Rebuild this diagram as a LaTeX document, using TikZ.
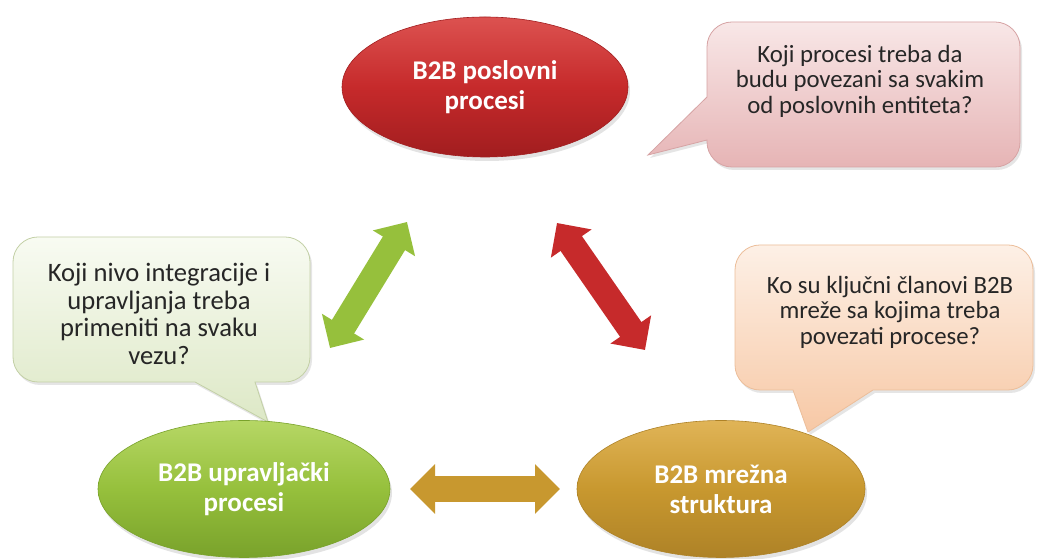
\documentclass[tikz,border=0pt]{standalone}
\usepackage{fontspec}
\setmainfont{Carlito}
\usetikzlibrary{shapes.geometric,arrows.meta,shadows}
\definecolor{redA}{HTML}{DC5250}
\definecolor{redB}{HTML}{C62A2B}
\definecolor{redC}{HTML}{A11D1F}
\definecolor{grnA}{HTML}{B6D765}
\definecolor{grnB}{HTML}{96C03C}
\definecolor{grnC}{HTML}{79A22B}
\definecolor{gldA}{HTML}{E0B457}
\definecolor{gldB}{HTML}{C8982F}
\definecolor{gldC}{HTML}{AE8227}
\definecolor{txtgray}{HTML}{262626}
\definecolor{pinkA}{HTML}{F8E7E7}
\definecolor{pinkB}{HTML}{E6B4B5}
\definecolor{pinkD}{HTML}{D6A3A4}
\definecolor{grnCallA}{HTML}{F8FBF2}
\definecolor{grnCallB}{HTML}{DDE8C6}
\definecolor{grnCallD}{HTML}{C3D0A6}
\definecolor{pchA}{HTML}{FDF0E6}
\definecolor{pchB}{HTML}{F7C8A5}
\definecolor{pchD}{HTML}{ECBE9A}
\begin{document}
\begin{tikzpicture}[x=1pt,y=1pt,
  ellbase/.style={ellipse, inner sep=0pt, outer sep=0pt, text=white,
    font=\bfseries\fontsize{27}{30}\selectfont, align=center,
    line width=0.6pt,
    drop shadow={opacity=0.22, shadow xshift=2pt, shadow yshift=-4pt}},
  redell/.style={ellbase, draw=redC, top color=redA, bottom color=redC, middle color=redB},
  grnell/.style={ellbase, draw=grnC, top color=grnA, bottom color=grnC, middle color=grnB},
  gldell/.style={ellbase, draw=gldC, top color=gldA, bottom color=gldC, middle color=gldB},
  callbase/.style={line width=0.8pt,
    drop shadow={opacity=0.2, shadow xshift=2pt, shadow yshift=-3pt}},
  calltext/.style={align=center, text=txtgray, inner sep=0pt,
    font=\fontsize{24.8}{25.5}\selectfont},
  dblarrow/.style={line width=26pt,
    {Triangle[width=48pt,length=25pt]}-{Triangle[width=48pt,length=25pt]}}
]
\useasboundingbox (0,0) rectangle (1037,559);
\fill[white] (0,0) rectangle (1037,559);

% callout shapes
\path[callbase, draw=pinkD, top color=pinkA, bottom color=pinkB]
  (732,537) -- (995,537) arc[start angle=90,end angle=0,radius=25]
  -- (1020,417) arc[start angle=0,end angle=-90,radius=25]
  -- (732,392) arc[start angle=270,end angle=180,radius=25]
  -- (707,419) -- (648,404) -- (707,462)
  -- (707,512) arc[start angle=180,end angle=90,radius=25] -- cycle;
\path[callbase, draw=grnCallD, top color=grnCallA, bottom color=grnCallB]
  (38,322) -- (285,322) arc[start angle=90,end angle=0,radius=25]
  -- (310,202) arc[start angle=0,end angle=-90,radius=25]
  -- (255,177) -- (268,137) -- (195,177)
  -- (38,177) arc[start angle=270,end angle=180,radius=25]
  -- (13,297) arc[start angle=180,end angle=90,radius=25] -- cycle;
\path[callbase, draw=pchD, top color=pchA, bottom color=pchB]
  (760,314) -- (1008,314) arc[start angle=90,end angle=0,radius=25]
  -- (1033,194) arc[start angle=0,end angle=-90,radius=25]
  -- (873,169) -- (808,127) -- (793,169)
  -- (760,169) arc[start angle=270,end angle=180,radius=25]
  -- (735,289) arc[start angle=180,end angle=90,radius=25] -- cycle;

% callout texts
\node[calltext] (tpink) at (860,478) {Koji procesi treba da\\budu povezani sa svakim\\od poslovnih entiteta?};
\node[calltext, font=\fontsize{26.6}{27.5}\selectfont] (tgreen) at (159,245) {Koji nivo integracije i\\upravljanja treba\\primeniti na svaku\\vezu?};
\node[calltext] (tpeach) at (890,247) {Ko su ključni članovi B2B\\mreže sa kojima treba\\povezati procese?};

% ellipses
\node[redell, minimum width=286pt, minimum height=140pt] (bp) at (485,472) {B2B poslovni\\procesi};
\node[grnell, minimum width=292pt, minimum height=137pt] (up) at (244,70) {B2B upravljački\\procesi};
\node[gldell, minimum width=288pt, minimum height=137pt] (ms) at (721,70) {B2B mrežna\\struktura};

% arrow end points
\coordinate (g1) at (330,211);
\coordinate (g2) at (407,337);
\coordinate (r1) at (557,336);
\coordinate (r2) at (645,209);
\coordinate (o1) at (410,70);
\coordinate (o2) at (560,70);

\draw[dblarrow, draw=grnB, fill=grnB] (g1) -- (g2);
\draw[dblarrow, draw=redB, fill=redB] (r1) -- (r2);
\draw[dblarrow, draw=gldB, fill=gldB] (o1) -- (o2);
\end{tikzpicture}
\end{document}
